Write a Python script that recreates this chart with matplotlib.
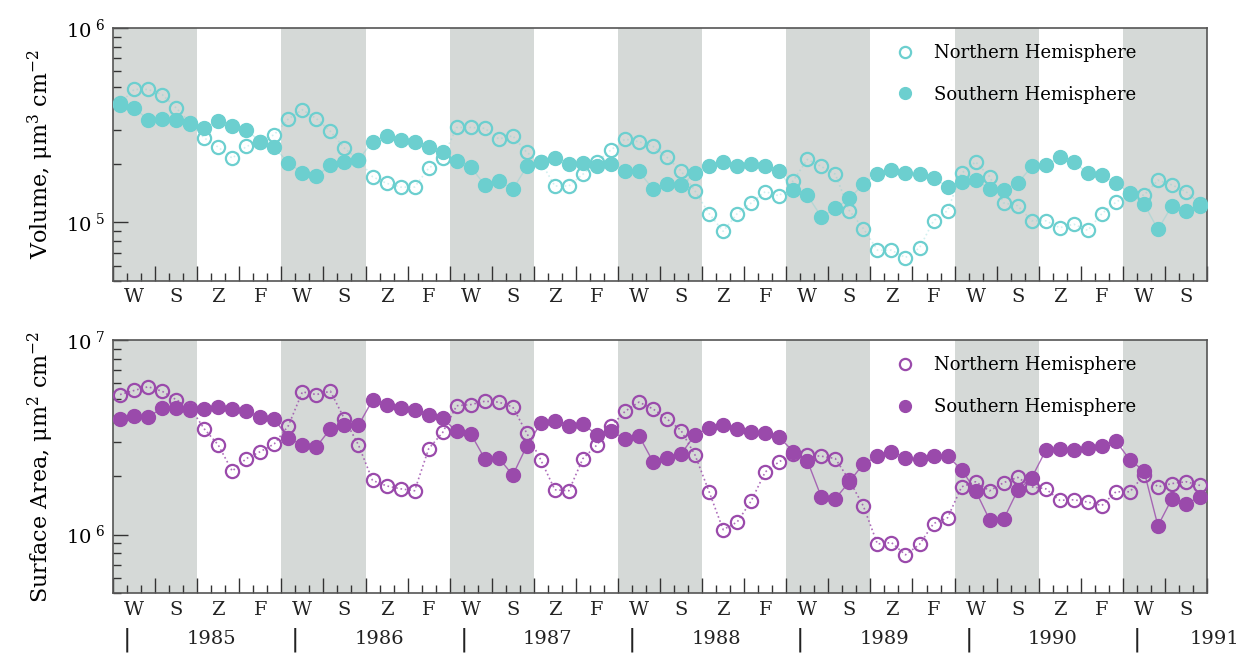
import matplotlib
matplotlib.use("Agg")
import matplotlib.pyplot as plt
import matplotlib.ticker as mticker
import matplotlib.transforms as mtransforms
import numpy as np

# monthly aerosol values, Dec 1984 .. May 1991 (78 months)
vol_nh = [4.1e5, 4.83e5, 4.83e5, 4.55e5, 3.88e5, 3.25e5, 2.72e5, 2.44e5, 2.14e5, 2.46e5,
          2.6e5, 2.83e5, 3.41e5, 3.80e5, 3.42e5, 2.94e5, 2.41e5, 2.1e5, 1.72e5, 1.59e5,
          1.52e5, 1.52e5, 1.90e5, 2.14e5, 3.08e5, 3.08e5, 3.05e5, 2.69e5, 2.79e5, 2.29e5,
          2.05e5, 1.54e5, 1.54e5, 1.77e5, 2.05e5, 2.36e5, 2.68e5, 2.60e5, 2.46e5, 2.16e5,
          1.84e5, 1.45e5, 1.11e5, 9.0e4, 1.11e5, 1.26e5, 1.44e5, 1.37e5, 1.64e5, 2.11e5,
          1.94e5, 1.77e5, 1.15e5, 9.3e4, 7.2e4, 7.2e4, 6.6e4, 7.4e4, 1.02e5, 1.15e5,
          1.79e5, 2.05e5, 1.72e5, 1.26e5, 1.22e5, 1.02e5, 1.02e5, 9.4e4, 9.8e4, 9.1e4,
          1.11e5, 1.27e5, 1.4e5, 1.38e5, 1.65e5, 1.56e5, 1.44e5, 1.25e5]
vol_sh = [4.04e5, 3.88e5, 3.38e5, 3.40e5, 3.35e5, 3.22e5, 3.06e5, 3.31e5, 3.14e5, 3.0e5,
          2.6e5, 2.43e5, 2.03e5, 1.80e5, 1.73e5, 1.97e5, 2.05e5, 2.10e5, 2.6e5, 2.79e5,
          2.66e5, 2.58e5, 2.43e5, 2.31e5, 2.07e5, 1.93e5, 1.56e5, 1.64e5, 1.48e5, 1.94e5,
          2.05e5, 2.14e5, 2.01e5, 2.03e5, 1.94e5, 2.01e5, 1.85e5, 1.83e5, 1.48e5, 1.57e5,
          1.56e5, 1.79e5, 1.94e5, 2.05e5, 1.94e5, 2.0e5, 1.94e5, 1.83e5, 1.47e5, 1.38e5,
          1.07e5, 1.18e5, 1.33e5, 1.57e5, 1.77e5, 1.86e5, 1.79e5, 1.77e5, 1.70e5, 1.52e5,
          1.62e5, 1.66e5, 1.49e5, 1.47e5, 1.59e5, 1.94e5, 1.97e5, 2.16e5, 2.05e5, 1.79e5,
          1.75e5, 1.60e5, 1.41e5, 1.25e5, 9.2e4, 1.22e5, 1.15e5, 1.21e5]
area_nh = [5.25e6, 5.51e6, 5.76e6, 5.46e6, 4.94e6, 4.5e6, 3.50e6, 2.89e6, 2.12e6, 2.46e6,
           2.67e6, 2.93e6, 3.63e6, 5.42e6, 5.25e6, 5.46e6, 3.93e6, 2.89e6, 1.90e6, 1.78e6,
           1.72e6, 1.68e6, 2.76e6, 3.35e6, 4.60e6, 4.66e6, 4.85e6, 4.8e6, 4.53e6, 3.32e6,
           2.42e6, 1.70e6, 1.68e6, 2.46e6, 2.89e6, 3.60e6, 4.30e6, 4.8e6, 4.43e6, 3.93e6,
           3.43e6, 2.56e6, 1.66e6, 1.06e6, 1.16e6, 1.49e6, 2.10e6, 2.37e6, 2.6e6, 2.56e6,
           2.53e6, 2.46e6, 1.9e6, 1.40e6, 8.95e5, 9.1e5, 7.87e5, 8.9e5, 1.14e6, 1.22e6,
           1.76e6, 1.87e6, 1.68e6, 1.85e6, 1.97e6, 1.76e6, 1.72e6, 1.50e6, 1.51e6, 1.47e6,
           1.41e6, 1.66e6, 1.66e6, 2.02e6, 1.76e6, 1.83e6, 1.87e6, 1.79e6]
area_sh = [3.93e6, 4.08e6, 4.02e6, 4.48e6, 4.48e6, 4.35e6, 4.45e6, 4.52e6, 4.45e6, 4.30e6,
           4.02e6, 3.93e6, 3.13e6, 2.89e6, 2.83e6, 3.50e6, 3.67e6, 3.65e6, 4.91e6, 4.66e6,
           4.48e6, 4.35e6, 4.14e6, 3.97e6, 3.39e6, 3.30e6, 2.46e6, 2.48e6, 2.02e6, 2.86e6,
           3.74e6, 3.86e6, 3.63e6, 3.70e6, 3.26e6, 3.43e6, 3.10e6, 3.22e6, 2.37e6, 2.48e6,
           2.60e6, 3.26e6, 3.53e6, 3.65e6, 3.49e6, 3.35e6, 3.32e6, 3.17e6, 2.67e6, 2.40e6,
           1.56e6, 1.53e6, 1.87e6, 2.31e6, 2.53e6, 2.67e6, 2.48e6, 2.44e6, 2.53e6, 2.53e6,
           2.16e6, 1.68e6, 1.19e6, 1.2e6, 1.69e6, 1.96e6, 2.71e6, 2.74e6, 2.72e6, 2.78e6,
           2.86e6, 3.03e6, 2.42e6, 2.13e6, 1.11e6, 1.53e6, 1.44e6, 1.56e6]

seasons = ['W', 'S', 'Z', 'F']
years = [1985, 1986, 1987, 1988, 1989, 1990, 1991]

plt.rcParams['font.family'] = 'DejaVu Serif'
plt.rcParams['mathtext.fontset'] = 'dejavuserif'

n_months = len(vol_nh)
months = np.arange(n_months) + 0.5   # plot at mid-month

fig = plt.figure(figsize=(12.45, 6.53), dpi=100)
ax1 = fig.add_axes([0.0908, 0.5697, 0.8787, 0.3874])
ax2 = fig.add_axes([0.0908, 0.0917, 0.8787, 0.3874])

cyan = '#6ccfcf'
purple = '#9a4aab'
band = '#d5d9d7'


def dress(ax, ylo, yhi, label, color, nh, sh, line_a):
    # winter/spring shading, Dec-May of each year
    for start in range(0, n_months, 12):
        ax.axvspan(start, start + 6, color=band, lw=0, zorder=0)

    ax.plot(months, nh, ls=':', lw=1.2, color=color, alpha=line_a, zorder=2)
    ax.plot(months, sh, ls='-', lw=1.0, color=color, alpha=line_a, zorder=2)
    ax.plot(months, nh, ls='none', marker='o', ms=9.5, mfc='none', mec=color,
            mew=1.6, zorder=3, label='Northern Hemisphere')
    ax.plot(months, sh, ls='none', marker='o', ms=10, mfc=color, mec=color,
            zorder=4, label='Southern Hemisphere')

    ax.set_xlim(0, n_months)
    ax.set_yscale('log')
    ax.set_ylim(ylo, yhi)

    ax.yaxis.set_major_locator(mticker.LogLocator(base=10))
    ax.yaxis.set_minor_locator(mticker.LogLocator(base=10, subs=[2, 3, 5, 6, 7, 8, 9]))
    ax.yaxis.set_minor_formatter(mticker.NullFormatter())
    ax.yaxis.set_major_formatter(
        mticker.FuncFormatter(lambda v, p: r'$10^{\ %d}$' % round(np.log10(v))))

    ax.xaxis.set_major_locator(mticker.MultipleLocator(3))
    ax.xaxis.set_minor_locator(mticker.MultipleLocator(1))
    ax.xaxis.set_major_formatter(mticker.NullFormatter())

    ax.tick_params(which='both', direction='in', top=False, right=False, color='#333333')
    ax.tick_params(which='major', length=11, width=1.0, labelsize=14, pad=6)
    ax.tick_params(which='minor', length=6, width=1.0)
    for s in ax.spines.values():
        s.set_color('#555555')
        s.set_linewidth(1.2)

    # season letters under each 3-month block
    trans = mtransforms.blended_transform_factory(ax.transData, ax.transAxes)
    for k in range(n_months // 3):
        ax.text(3 * k + 1.5, -0.065, seasons[k % 4], transform=trans,
                ha='center', va='center', fontsize=14, color='#222222')

    ax.set_ylabel(label, fontsize=16, labelpad=7)
    ax.legend(loc='upper right', bbox_to_anchor=(0.95, 1.0), frameon=False,
              fontsize=13, labelspacing=1.3, handletextpad=0.6, markerscale=0.85)


dress(ax1, 5e4, 1e6, r'Volume, μm$^{3}$ cm$^{-2}$', cyan, vol_nh, vol_sh, 0.3)
dress(ax2, 5e5, 1e7, r'Surface Area, μm$^{2}$ cm$^{-2}$', purple, area_nh, area_sh, 0.8)

# year row under the lower panel
trans = mtransforms.blended_transform_factory(ax2.transData, ax2.transAxes)
for k, yr in enumerate(years):
    ax2.text(12 * k + 1, -0.185, '|', transform=trans, ha='center', va='center',
             fontsize=18, color='#222222', clip_on=False)
    xc = min(12 * k + 7, 78.5)
    ax2.text(xc, -0.18, str(yr), transform=trans, ha='center', va='center',
             fontsize=14, color='#222222', clip_on=False)

fig.savefig('out.png', dpi=100)
